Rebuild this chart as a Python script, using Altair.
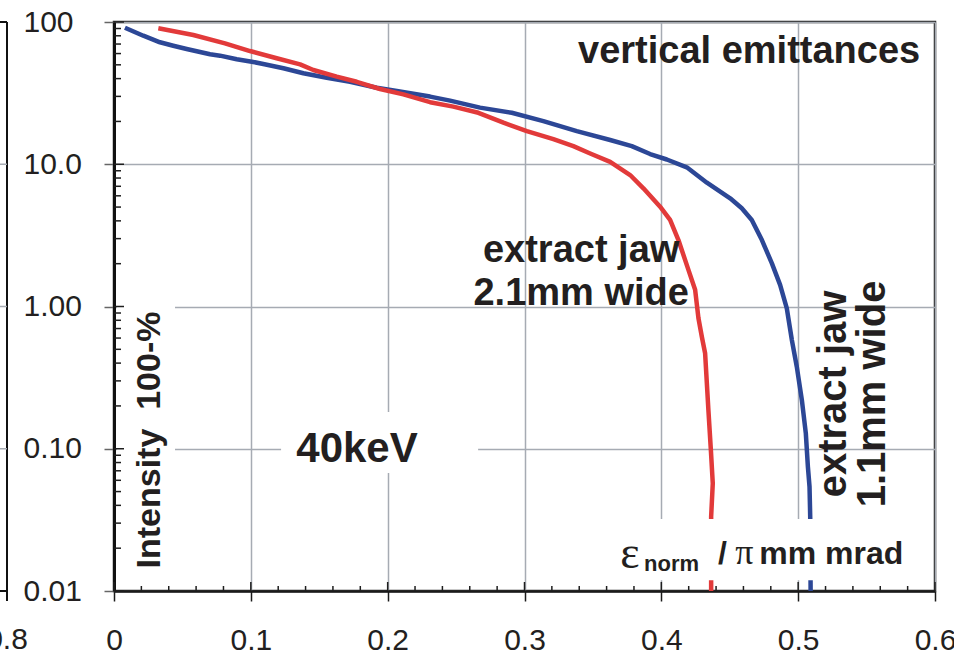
import altair as alt
import pandas as pd

# Remaining intensity (100 - % cut) against normalised vertical emittance
eps_1mm1 = [0.008, 0.0214, 0.0336, 0.0433, 0.0531, 0.0702, 0.0775, 0.0897, 0.1007, 0.1091,
            0.1238, 0.1384, 0.1555, 0.1725, 0.1920, 0.2067, 0.2310, 0.2456, 0.2675, 0.2907,
            0.3138, 0.3382, 0.3626, 0.3784, 0.3918, 0.4040, 0.4186, 0.4333, 0.4503, 0.4588,
            0.4661, 0.4735, 0.4808, 0.4868, 0.4917, 0.4954, 0.4990, 0.5027, 0.5056, 0.5071,
            0.5083, 0.5088, 0.5091]
int_1mm1 = [91.2, 80.1, 72.0, 68.1, 64.6, 59.3, 58.0, 54.7, 52.6, 50.7,
            47.3, 43.6, 40.6, 38.0, 34.5, 32.7, 29.9, 28.0, 25.0, 23.0,
            20.1, 17.1, 14.8, 13.4, 11.8, 10.8, 9.52, 7.42, 5.76, 4.90,
            4.06, 2.93, 2.01, 1.42, 0.971, 0.581, 0.377, 0.220, 0.128, 0.0748,
            0.0541, 0.0333, 0.01]

eps_2mm1 = [0.0324, 0.0580, 0.0811, 0.0994, 0.1189, 0.1360, 0.1457, 0.1628, 0.1774, 0.1944,
            0.2115, 0.2310, 0.2480, 0.2663, 0.2846, 0.3017, 0.3211, 0.3357, 0.3480, 0.3626,
            0.3772, 0.3869, 0.3991, 0.4064, 0.4125, 0.4198, 0.4247, 0.4271, 0.4296, 0.4320,
            0.4344, 0.4362, 0.4376, 0.4364, 0.4364]
int_2mm1 = [90.3, 81.0, 70.8, 62.5, 55.6, 50.4, 46.0, 41.3, 38.0, 33.8,
            31.0, 27.3, 25.4, 23.0, 19.6, 17.1, 15.0, 13.4, 11.9, 10.4,
            8.40, 6.77, 5.03, 4.06, 2.93, 1.81, 1.31, 0.830, 0.613, 0.469,
            0.187, 0.098, 0.0572, 0.0333, 0.01]

X_TICKS = [0, 0.1, 0.2, 0.3, 0.4, 0.5, 0.6]
X_TICK_LABELS = ["0", "0.1", "0.2", "0.3", "0.4", "0.5", "0.6"]
Y_TICKS = [0.01, 0.1, 1, 10, 100]
Y_TICK_LABELS = ["0.01", "0.10", "1.00", "10.0", "100"]

BLUE = "#2c4796"
RED = "#e23a3a"
INK = "#231f20"
GRID = "#a6abb3"
SANS = "Liberation Sans"
SERIF = "Liberation Serif"

x_expr = " : ".join(f"datum.value < {v + 0.05} ? '{l}'" for v, l in zip(X_TICKS, X_TICK_LABELS)) + " : ''"
y_expr = " : ".join(f"datum.value < {v * 1.5} ? '{l}'" for v, l in zip(Y_TICKS, Y_TICK_LABELS)) + " : ''"

xscale = alt.Scale(domain=[0, 0.6], nice=False, zero=False)
yscale = alt.Scale(type="log", domain=[0.01, 100], nice=False)

xaxis = alt.Axis(values=X_TICKS, labelExpr=x_expr, title=None, grid=True, gridColor=GRID,
                 gridWidth=1.5, domainColor="#1a1a1a", domainWidth=2.5, tickColor="#1a1a1a",
                 tickWidth=1.5, tickSize=10, labelFont=SANS, labelFontSize=30, labelColor=INK,
                 labelBaseline="alphabetic", labelPadding=48, labelFlush=False,
                 labelOverlap=False, zindex=0)
yaxis = alt.Axis(values=Y_TICKS, labelExpr=y_expr, title=None, grid=True, gridColor=GRID,
                 gridWidth=1.5, domainColor="#111111", domainWidth=3, tickColor="#666666",
                 tickWidth=1.5, tickSize=10, labelFont=SANS, labelFontSize=30, labelColor=INK,
                 labelAlign="left", labelBaseline="middle", labelPadding=81, labelFlush=False,
                 labelOverlap=False, zindex=0)


def X(field="x"):
    return alt.X(f"{field}:Q", scale=xscale, axis=xaxis)


def Y(field="y"):
    return alt.Y(f"{field}:Q", scale=yscale, axis=yaxis)


def curve(xs, ys, color):
    df = pd.DataFrame({"x": xs, "y": ys, "i": range(len(xs))})
    return alt.Chart(df).mark_line(color=color, strokeWidth=4.5, strokeJoin="round").encode(
        x=X(), y=Y(), order=alt.Order("i:Q"))


def label(xs, ys, texts, **kw):
    df = pd.DataFrame({"x": xs, "y": ys, "t": texts})
    return alt.Chart(df).mark_text(color=INK, **kw).encode(x=X(), y=Y(), text="t:N")


# white boxes behind the annotations
box_x = [0.002, 0.1221, 0.359]
box_x2 = [0.0446, 0.2661, 0.5855]
box_y = [1.11, 0.1813, 0.0321]
box_y2 = [0.0105, 0.0675, 0.0119]
boxes = alt.Chart(pd.DataFrame({"x": box_x, "x2": box_x2, "y": box_y, "y2": box_y2})).mark_rect(
    color="white").encode(x=X(), x2="x2:Q", y=Y(), y2="y2:Q")

# inner tick marks (log minors on y, 0.02 steps on x)
y_minor = [m * d for d in [0.01, 0.1, 1, 10] for m in range(2, 10)]
x_minor = [v / 100 for v in range(2, 60, 2) if v % 10]
tick_col = "#1e1e1e"
y_major_in = alt.Chart(pd.DataFrame({"y": Y_TICKS})).mark_rule(color=tick_col, strokeWidth=1.5).encode(
    y=Y(), x=alt.value(0), x2=alt.value(10))
y_minor_in = alt.Chart(pd.DataFrame({"y": y_minor})).mark_rule(color=tick_col, strokeWidth=1.5).encode(
    y=Y(), x=alt.value(0), x2=alt.value(7))
x_major_in = alt.Chart(pd.DataFrame({"x": X_TICKS})).mark_rule(color=tick_col, strokeWidth=1.5).encode(
    x=X(), y=alt.value(569), y2=alt.value(560))
x_minor_in = alt.Chart(pd.DataFrame({"x": x_minor})).mark_rule(color=tick_col, strokeWidth=1.5).encode(
    x=X(), y=alt.value(569), y2=alt.value(564))

# annotations
t_title = label([0.5892], [51.5], ["vertical emittances"], font=SANS, fontWeight="bold",
                fontSize=38, align="right", baseline="alphabetic")
t_wide = label([0.3414, 0.3414], [2.055, 1.024], ["extract jaw", "2.1mm wide"], font=SANS,
               fontWeight="bold", fontSize=38, align="center", baseline="alphabetic")
t_narrow = label([0.5263, 0.5548], [0.2427, 0.2427], ["extract jaw", "1.1mm wide"], font=SANS,
                 fontWeight="bold", fontSize=40, align="center", baseline="middle", angle=270)
t_energy = label([0.1776], [0.1], ["40keV"], font=SANS, fontWeight="bold", fontSize=42,
                 align="center", baseline="middle")
t_ylab = label([0.0263], [0.1152], ["Intensity\u00a0 100-%"], font=SANS, fontWeight="bold",
               fontSize=34, align="center", baseline="middle", angle=270)
t_eps = label([0.3700], [0.01451], ["\u03b5"], font=SERIF, fontSize=46, align="left",
              baseline="alphabetic")
t_norm = label([0.3874], [0.01382], ["norm"], font=SANS, fontWeight="bold", fontSize=22,
               align="left", baseline="alphabetic")
t_slash = label([0.4415], [0.01548], ["/"], font=SANS, fontWeight="bold", fontSize=32,
                align="left", baseline="alphabetic")
t_pi = label([0.4540], [0.01548], ["\u03c0"], font=SERIF, fontSize=36, align="left",
             baseline="alphabetic")
t_unit = label([0.5768], [0.01548], ["mm mrad"], font=SANS, fontWeight="bold", fontSize=32,
               align="right", baseline="alphabetic")

# edge of the neighbouring panel on the left
nb_edge = alt.Chart(pd.DataFrame({"y": [100]})).mark_rule(color="#111111", strokeWidth=2).encode(
    x=alt.value(-107), y=alt.value(0), y2=alt.value(579))
nb_frame = alt.Chart(pd.DataFrame({"y": [100, 0.01]})).mark_rule(color="#111111", strokeWidth=2).encode(
    y=Y(), x=alt.value(-114), x2=alt.value(-107))
nb_grid = alt.Chart(pd.DataFrame({"y": [10, 1, 0.1]})).mark_rule(color=GRID, strokeWidth=1.5).encode(
    y=Y(), x=alt.value(-114), x2=alt.value(-107))
nb_label = alt.Chart(pd.DataFrame({"t": ["0.8"]})).mark_text(
    font=SANS, fontSize=30, color=INK, align="center", baseline="alphabetic").encode(
    x=alt.value(-107), y=alt.value(627), text="t:N")

chart = alt.layer(
    curve(eps_1mm1, int_1mm1, BLUE),
    curve(eps_2mm1, int_2mm1, RED),
    boxes,
    y_major_in, y_minor_in, x_major_in, x_minor_in,
    t_title, t_wide, t_narrow, t_energy, t_ylab,
    t_eps, t_norm, t_slash, t_pi, t_unit,
    nb_edge, nb_frame, nb_grid, nb_label,
).properties(
    width=821, height=569,
    padding={"left": 114, "top": 22, "right": 19, "bottom": 65},
    autosize=alt.AutoSizeParams(type="none"),
    background="white",
).configure_view(stroke="#222222", strokeWidth=2.5)

chart.save("out.html", embed_options={"renderer": "svg", "actions": False})
